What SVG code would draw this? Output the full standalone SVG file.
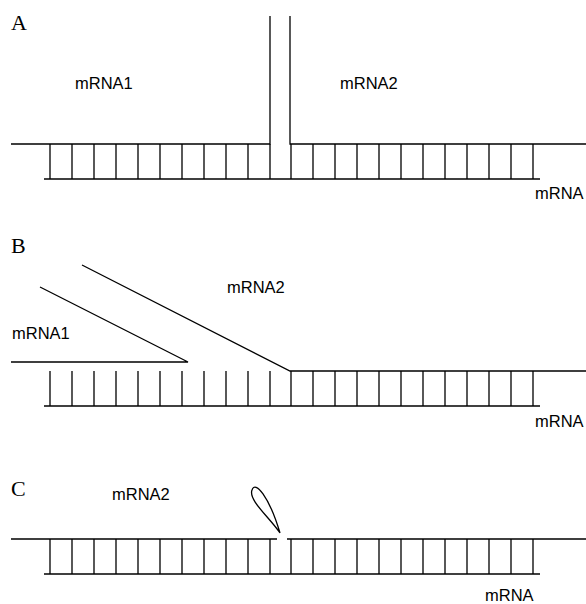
<svg xmlns="http://www.w3.org/2000/svg" width="586" height="604" viewBox="0 0 586 604">
<defs>
<style>
.s{stroke:#000;stroke-width:1.3;fill:none}
.lbl{font-family:"Liberation Sans",Arial,sans-serif;font-size:16.5px;fill:#000}
.pl{font-family:"Liberation Serif","Times New Roman",serif;font-size:22px;fill:#000}
</style>
<g id="rungs">
<path class="s" d="M50 0V35M72 0V35M94 0V35M116 0V35M138 0V35M160 0V35M182 0V35M204 0V35M226 0V35M248 0V35M270 0V35M291 0V35M313 0V35M335 0V35M357 0V35M379 0V35M401 0V35M423 0V35M445 0V35M467 0V35M489 0V35M511 0V35M533 0V35"/>
</g>
</defs>
<rect width="586" height="604" fill="#fff"/>

<g id="panelA">
<text class="pl" x="11" y="30">A</text>
<g id="A-mRNA1"><path class="s" d="M11 144H270V16"/><text class="lbl" x="75" y="89">mRNA1</text></g>
<g id="A-mRNA2"><path class="s" d="M290 16V144H586"/><text class="lbl" x="340" y="89">mRNA2</text></g>
<g id="A-mRNA"><path class="s" d="M44 179H540"/><text class="lbl" x="535" y="199">mRNA</text></g>
<use href="#rungs" y="144"/>
</g>

<g id="panelB">
<text class="pl" x="11" y="253">B</text>
<g id="B-mRNA1"><path class="s" d="M11 362H188L40 287"/><text class="lbl" x="12" y="339">mRNA1</text></g>
<g id="B-mRNA2"><path class="s" d="M82 265L290 371H586"/><text class="lbl" x="227" y="293">mRNA2</text></g>
<g id="B-mRNA"><path class="s" d="M44 406H540"/><text class="lbl" x="535" y="427">mRNA</text></g>
<use href="#rungs" y="371"/>
</g>

<g id="panelC">
<text class="pl" x="11" y="496">C</text>
<g id="C-mRNA2"><path class="s" d="M11 539H277M287 539H586"/><text class="lbl" x="112" y="500">mRNA2</text></g>
<g id="C-loop"><path class="s" d="M280 533C270 518 248 500 252 490C255 480 269 496 280 533Z"/></g>
<g id="C-mRNA"><path class="s" d="M44 574H540"/><text class="lbl" x="485" y="601">mRNA</text></g>
<use href="#rungs" y="539"/>
</g>
</svg>
